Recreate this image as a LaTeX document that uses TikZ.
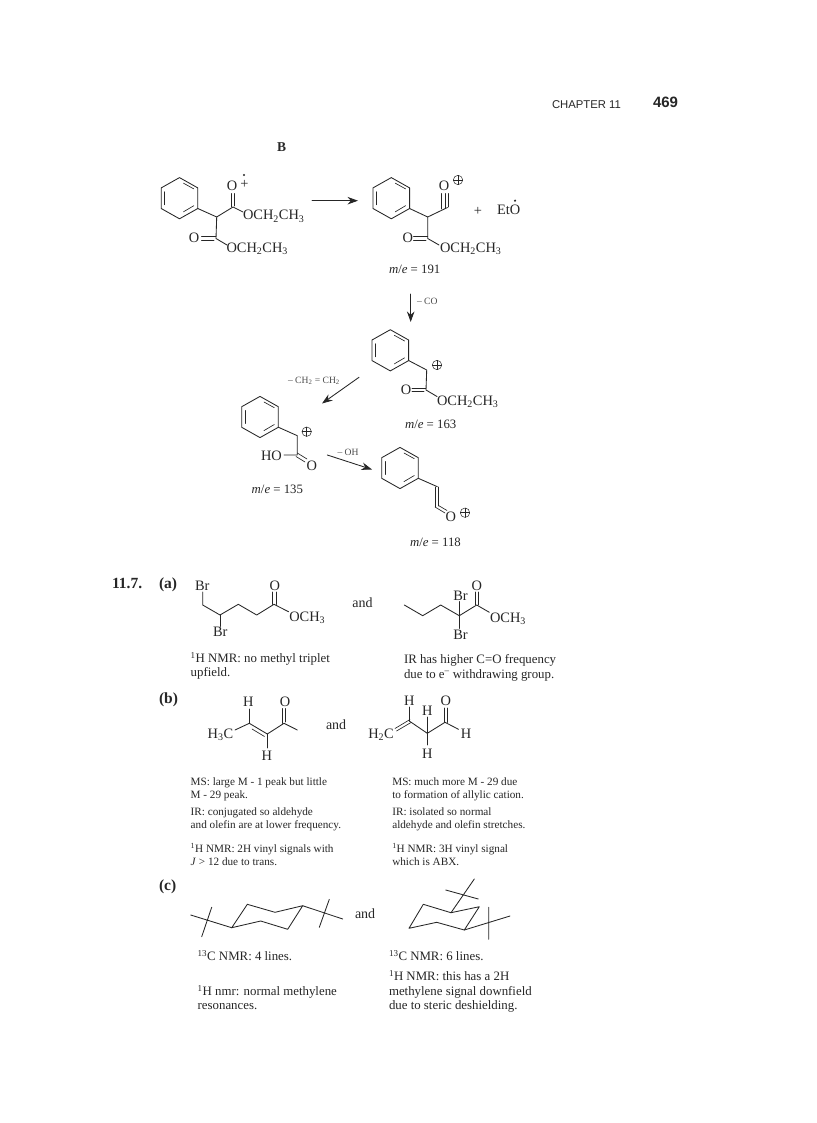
\documentclass[tikz,border=0pt]{standalone}
\usepackage{fontspec}
\setmainfont{Liberation Serif}
\newfontfamily\helv{Liberation Sans}
\usetikzlibrary{arrows.meta}
\tikzset{
  every node/.style={inner sep=0pt,outer sep=0pt,text=black!85},
  bond/.style={draw=black!85,line width=0.85pt,line cap=round,line join=round},
  thinb/.style={bond,line width=0.65pt},
  rxn/.style={bond,-{Stealth[length=10.5pt,width=7.5pt]}},
  chem/.style={anchor=base west,font=\fontsize{14.4}{16}\selectfont},
  chemc/.style={anchor=base,font=\fontsize{14.4}{16}\selectfont},
  metxt/.style={anchor=base west,font=\fontsize{12.8}{15}\selectfont},
  notetxt/.style={anchor=base west,font=\fontsize{12.85}{14}\selectfont},
  smalltxt/.style={anchor=base west,font=\fontsize{11.2}{13}\selectfont},
  tinytxt/.style={anchor=base west,font=\fontsize{9.6}{11}\selectfont,text=black!70},
  qmark/.style={anchor=base west,font=\fontsize{15.5}{17}\selectfont\bfseries},
  andtxt/.style={anchor=base west,font=\fontsize{14}{16}\selectfont},
}
\newcommand{\benz}[2]{%
  \begin{scope}[shift={(#1,#2)}]
    \draw[bond] (0,-20.6) -- (18.3,-10.3) -- (18.3,10.3) -- (0,20.6) -- (-18.3,10.3) -- (-18.3,-10.3) -- cycle;
    \draw[thinb] (4,-15) -- (14.3,-9.3);
    \draw[thinb] (14.3,7.5) -- (4,13.6);
    \draw[thinb] (-14.8,-6.5) -- (-14.8,6.5);
  \end{scope}}
\newcommand{\cplus}[2]{%
  \begin{scope}[shift={(#1,#2)}]
    \draw[thinb,line width=0.5pt] (0,0) circle (4.7);
    \draw[thinb,line width=0.5pt] (-4.7,0) -- (4.7,0) (0,-4.7) -- (0,4.7);
  \end{scope}}
\newcommand{\etil}{OCH\textsubscript{2}CH\textsubscript{3}}
\begin{document}
\begin{tikzpicture}[x=1pt,y=-1pt]
\useasboundingbox (0,0) rectangle (816,1123);
\fill[white] (0,0) rectangle (816,1123);
% header
\node[anchor=base west,font=\helv\fontsize{11.3}{12}\selectfont] (hd) at (552,109) {CHAPTER 11};
\node[anchor=base west,font=\helv\bfseries\fontsize{15}{16}\selectfont] (pg) at (653,108) {469};
\node[anchor=base,font=\fontsize{13.5}{14}\selectfont\bfseries] (bl) at (281.7,152) {B};

% molecule 1
\benz{179.5}{198.2}
\draw[bond] (197.8,208.5) -- (216.7,217) -- (233,207) -- (243,212);
\draw[bond] (216.7,217) -- (216,238.5) -- (227,245);
\draw[thinb] (231,193.5) -- (231,207) (234.5,193.5) -- (234.5,206);
\draw[thinb] (201.5,236.5) -- (216,236.5) (201.5,240) -- (214,240);
\node[chemc] (o1) at (232,191) {O};
\node[chemc] (plus1) at (244.5,189) {+};
\fill[black!85] (244,175) circle (1.2);
\node[chem] (e1) at (243,220) {\etil};
\node[chemc] (o2) at (194,243) {O};
\node[chem] (e2) at (226.5,252) {\etil};

% arrow 1
\coordinate (a1s) at (312,200.7); \coordinate (a1e) at (358,200.7);
\draw[rxn] (a1s) -- (a1e);

% molecule 2
\benz{391.3}{198.2}
\draw[bond] (409.6,208.5) -- (427.7,217) -- (447.5,207.5);
\draw[thinb] (441.5,193.5) -- (441.5,209) (445,193.5) -- (445,208) (448.5,193.5) -- (448.5,207);
\draw[bond] (427.7,217) -- (427.7,238.5) -- (439,245);
\draw[thinb] (413.5,236.5) -- (427.7,236.5) (413.5,240) -- (426,240);
\node[chemc] (o3) at (444,191) {O};
\cplus{458}{180}
\node[chemc] (plus2) at (478,215) {+};
\node[chem] (eto) at (497,214.5) {EtO};
\fill[black!85] (515,200.7) circle (1.2);
\node[chemc] (o4) at (407.7,243) {O};
\node[chem] (e3) at (440,252) {\etil};
\node[metxt] (m191) at (389,273.5) {\textit{m}/\textit{e} = 191};

% arrow CO
\coordinate (a2s) at (410.7,294); \coordinate (a2e) at (410.7,322);
\draw[rxn] (a2s) -- (a2e);
\node[tinytxt] (co) at (417,304) {– CO};

% molecule 3
\benz{390.3}{350.3}
\draw[bond] (408.6,360.5) -- (426.7,370) -- (426,390) -- (437,396.5);
\draw[thinb] (412,388) -- (426,388) (412,391.5) -- (424,391.5);
\cplus{437}{365}
\node[chemc] (o5) at (406,394) {O};
\node[chem] (e4) at (437,405) {\etil};
\node[metxt] (m163) at (405,428.5) {\textit{m}/\textit{e} = 163};

% arrow -CH2=CH2
\coordinate (a3s) at (359,377.3); \coordinate (a3e) at (322,403.5);
\draw[rxn] (a3s) -- (a3e);
\node[tinytxt] (c2h4) at (288,383) {– CH\textsubscript{2} = CH\textsubscript{2}};

% molecule 4
\benz{260}{417}
\draw[bond] (278.3,427.2) -- (297.3,435.7) -- (297.3,455) -- (284,455);
\draw[thinb] (297.3,453) -- (307,459) (296,456.5) -- (305,462);
\cplus{306.7}{431.7}
\node[chem] (ho) at (261,460.5) {HO};
\node[chemc] (o6) at (311.7,470) {O};
\node[metxt] (m135) at (251.7,493.5) {\textit{m}/\textit{e} = 135};

% arrow -OH
\coordinate (a4s) at (327.3,455); \coordinate (a4e) at (372,469.5);
\draw[rxn] (a4s) -- (a4e);
\node[tinytxt] (oh) at (337.5,455.5) {– OH};

% molecule 5
\benz{400}{468}
\draw[bond] (418.3,478.3) -- (437.3,486.7);
\draw[thinb] (435,487) -- (435,507) (438.5,487) -- (438.5,506);
\draw[thinb] (435,507) -- (445,513) (438.5,505.5) -- (447,510.5);
\node[chemc] (o7) at (450.7,521.5) {O};
\cplus{465}{512.7}
\node[metxt] (m118) at (410,546) {\textit{m}/\textit{e} = 118};

% 11.7 (a)
\node[qmark] (n117) at (112,588.5) {11.7.};
\node[qmark] (lba) at (159,588.5) {(a)};
\node[chem] (br1) at (195,590) {Br};
\draw[bond] (202.7,592) -- (202.7,605) -- (220,615) -- (238.3,604.3) -- (256.7,615) -- (274,604.3) -- (288.5,611.7);
\draw[thinb] (272.5,592) -- (272.5,604.5) (276,592) -- (276,604.5);
\draw[bond] (220,615) -- (220,626.5);
\node[chemc] (o8) at (274.7,590) {O};
\node[chem] (m1) at (289.3,621.5) {OCH\textsubscript{3}};
\node[chem] (br2) at (213,636.5) {Br};
\node[andtxt] (and1) at (352.3,607) {and};
\draw[bond] (404.3,605) -- (422.7,615.7) -- (440.7,605) -- (459.3,615.7) -- (476.7,605) -- (489.3,612.3);
\draw[bond] (459.3,601.5) -- (459.3,628.5);
\draw[thinb] (475,592) -- (475,605) (478.5,592) -- (478.5,605);
\node[chemc] (o9) at (476.7,590.5) {O};
\node[chem] (br3) at (453.3,600) {Br};
\node[chem] (m2) at (490,622.5) {OCH\textsubscript{3}};
\node[chem] (br4) at (453.3,639) {Br};
\node[notetxt] (a1) at (190.7,662.5) {\textsuperscript{1}H NMR: no methyl triplet};
\node[notetxt] (a2) at (190.7,676) {upfield.};
\node[notetxt] (a3) at (404,663.5) {IR has higher C=O frequency};
\node[notetxt] (a4) at (404,678) {due to e\textsuperscript{–} withdrawing group.};

% (b)
\node[qmark] (lbb) at (159,703.5) {(b)};
\draw[bond] (235,730) -- (249.3,723.3) -- (267.3,734) -- (284,723.3) -- (297.3,730);
\draw[bond] (249.3,709) -- (249.3,723.3);
\draw[thinb] (252,729) -- (264.5,736.5);
\draw[thinb] (267.3,734) -- (267.3,748);
\draw[thinb] (282.3,708.5) -- (282.3,723.5) (285.8,708.5) -- (285.8,722);
\node[chemc] (hb1) at (248.3,706) {H};
\node[chemc] (ob1) at (285,706) {O};
\node[chem] (h3c) at (207.7,738.5) {H\textsubscript{3}C};
\node[chemc] (hb2) at (266.7,760) {H};
\node[andtxt] (and2) at (326,729.5) {and};
\node[chem] (h2c) at (368.3,738.5) {H\textsubscript{2}C};
\draw[thinb] (395,728.5) -- (410,719.5) (396.5,731) -- (411,722.5);
\draw[bond] (410,721.5) -- (427.3,733.3) -- (445,722.3) -- (458.5,729.3);
\draw[bond] (409.3,707) -- (409.3,721.5);
\draw[thinb] (427.3,717) -- (427.3,745);
\draw[thinb] (444,708) -- (444,722.5) (447.5,708) -- (447.5,722.5);
\node[chemc] (hb3) at (409.3,705) {H};
\node[chemc] (hb4) at (427.3,715.5) {H};
\node[chemc] (ob2) at (445.7,705) {O};
\node[chemc] (hb5) at (466,738.5) {H};
\node[chemc] (hb6) at (427.3,758.5) {H};
\node[smalltxt] (b1) at (190.7,785.5) {MS: large M - 1 peak but little};
\node[smalltxt] (b2) at (190.7,798.5) {M - 29 peak.};
\node[smalltxt] (b3) at (190.7,815.5) {IR: conjugated so aldehyde};
\node[smalltxt] (b4) at (190.7,828.5) {and olefin are at lower frequency.};
\node[smalltxt] (b5) at (190.7,852) {\textsuperscript{1}H NMR: 2H vinyl signals with};
\node[smalltxt] (b6) at (190.7,865) {\textit{J} > 12 due to trans.};
\node[smalltxt] (b7) at (392.3,785.5) {MS: much more M - 29 due};
\node[smalltxt] (b8) at (392.3,798.5) {to formation of allylic cation.};
\node[smalltxt] (b9) at (392.3,815.5) {IR: isolated so normal};
\node[smalltxt] (b10) at (392.3,828.5) {aldehyde and olefin stretches.};
\node[smalltxt] (b11) at (392.3,852) {\textsuperscript{1}H NMR: 3H vinyl signal};
\node[smalltxt] (b12) at (392.3,865) {which is ABX.};

% (c)
\node[qmark] (lbc) at (159,890.5) {(c)};
\draw[bond] (231.7,927.7) -- (247.3,904.3) -- (275,912.3) -- (302.7,905.7) -- (287.7,929.3) -- (260.7,921) -- cycle;
\draw[bond] (231.7,927.7) -- (190.7,915) (211.7,907.3) -- (201.7,936.7);
\draw[bond] (302.7,905.7) -- (342.7,919) (329.3,899.3) -- (319.3,927.3);
\node[andtxt] (and3) at (355,918.5) {and};
\draw[bond] (409,928.3) -- (423.3,904.3) -- (451,912.7) -- (479.3,906.7) -- (464.3,930) -- (436.7,922.3) -- cycle;
\draw[bond] (451,912.7) -- (474.3,879) (445.7,890) -- (478.3,899);
\draw[bond] (464.3,930) -- (510,916) (488.7,907.3) -- (488.7,939.3);
\node[notetxt] (c1) at (197.7,960.5) {\textsuperscript{13}C NMR: 4 lines.};
\node[notetxt] (c2) at (197.7,995.5) {\textsuperscript{1}H nmr: normal methylene};
\node[notetxt] (c3) at (197.7,1009.5) {resonances.};
\node[notetxt] (c4) at (389,960.5) {\textsuperscript{13}C NMR: 6 lines.};
\node[notetxt] (c5) at (389,980.5) {\textsuperscript{1}H NMR: this has a 2H};
\node[notetxt] (c6) at (389,995) {methylene signal downfield};
\node[notetxt] (c7) at (389,1009.5) {due to steric deshielding.};
\end{tikzpicture}
\end{document}
